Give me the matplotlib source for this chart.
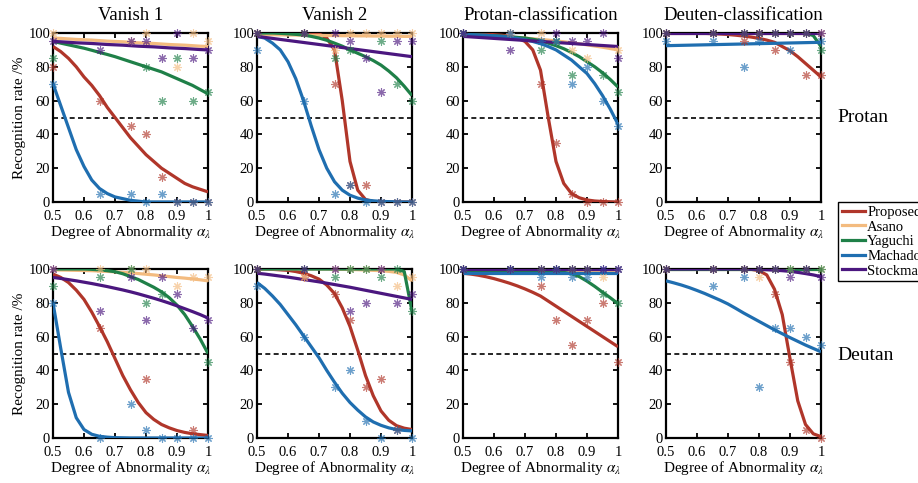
import numpy as np
import matplotlib.pyplot as plt

plt.rcParams['font.family'] = ['Liberation Serif', 'DejaVu Serif']
plt.rcParams['mathtext.fontset'] = 'stix'

methods = ['Proposed', 'Asano', 'Yaguchi', 'Machado', 'Stockman']
colors = ['#b0362a', '#f3bb7f', '#1f8048', '#1f6eb0', '#4b177f']
tasks = ['Vanish 1', 'Vanish 2', 'Protan-classification', 'Deuten-classification']
rows = ['Protan', 'Deutan']

# measured abnormality levels (scatter) and grid of the fitted curves
pt_x = [0.5, 0.65, 0.75, 0.8, 0.85, 0.9, 0.95, 1.0]
fit_x = [0.5, 0.525, 0.55, 0.575, 0.6, 0.625, 0.65, 0.675, 0.7, 0.725, 0.75,
         0.775, 0.8, 0.825, 0.85, 0.875, 0.9, 0.925, 0.95, 0.975, 1.0]
N = None

# ---- Protan row ----
p_v1_pts = [
    [80, 60, 45, 40, 15, 0, 0, 0],
    [100, N, 95, 100, N, 80, 100, 95],
    [85, N, N, 80, 60, 85, 60, 65],
    [70, 5, 5, 0, 5, 0, 0, 0],
    [95, 90, 95, 95, 85, 100, 85, 90],
]
p_v1_fit = [
    [92, 89, 85, 80, 74, 69, 63, 56, 50, 44, 38, 33, 28, 24, 20, 17, 14, 11, 9, 7.5, 6],
    [97, 96.8, 96.5, 96.2, 96, 95.8, 95.5, 95.2, 95, 94.8, 94.5, 94.2, 94, 93.8, 93.5, 93.2, 93, 92.8, 92.5, 92.2, 92],
    [95, 94, 93, 92, 91, 89.8, 88.5, 87.3, 86, 84.5, 83, 81.5, 80, 78.5, 77, 75, 73, 71, 69, 66.5, 64],
    [70, 57, 44, 31, 21, 13, 8, 5, 3, 2, 1, 0.5, 0, 0, 0, 0, 0, 0, 0, 0, 0],
    [95, 94.8, 94.5, 94.2, 94, 93.8, 93.5, 93.2, 93, 92.8, 92.5, 92.2, 92, 91.8, 91.5, 91.2, 91, 90.8, 90.5, 90.2, 90],
]

p_v2_pts = [
    [100, 100, 70, 10, 10, 0, 0, 0],
    [100, 100, 90, 100, 100, 100, 100, 100],
    [100, 100, 85, 90, N, 95, 70, 60],
    [90, 60, 5, 10, 0, 0, 0, 0],
    [100, 100, 100, 95, 85, 65, 95, 95],
]
p_v2_fit = [
    [100, 100, 100, 100, 100, 100, 100, 99.8, 99.5, 97, 90, 60, 24, 7, 1.5, 0.3, 0, 0, 0, 0, 0],
    [99, 99, 99, 98.9, 98.8, 98.8, 98.7, 98.6, 98.6, 98.5, 98.5, 98.4, 98.4, 98.3, 98.3, 98.2, 98.2, 98.1, 98.1, 98, 98],
    [100, 100, 100, 99.8, 99.5, 99.2, 98.8, 98, 97, 95.7, 94, 92.2, 90, 88, 86, 83.7, 81, 77.5, 73.5, 68.5, 63],
    [98, 97, 94, 90, 83, 73, 60, 45, 31, 20, 12, 7, 4, 2.3, 1.2, 0.7, 0.4, 0.2, 0.1, 0, 0],
    [98, 97.4, 96.8, 96.2, 95.6, 95, 94.4, 93.8, 93.2, 92.6, 92, 91.4, 90.8, 90.2, 89.6, 89, 88.4, 87.8, 87.2, 86.6, 86],
]

p_pc_pts = [
    [100, 100, 70, 35, 5, 0, 0, 0],
    [100, 100, 100, 95, 90, 85, N, 90],
    [100, N, 90, 95, 75, N, 75, 65],
    [100, 100, 95, 95, 70, 80, 60, 45],
    [100, 90, N, 100, 95, 95, 100, 85],
]
p_pc_fit = [
    [99.5, 99.5, 99.4, 99.3, 99, 98.7, 98, 97, 95, 90, 78, 50, 24, 11, 5, 2.5, 1.2, 0.6, 0.3, 0.1, 0],
    [98.5, 98.4, 98.3, 98.2, 98, 97.8, 97.6, 97.3, 97, 96.6, 96.2, 95.8, 95.3, 94.8, 94.2, 93.6, 93, 92.3, 91.6, 90.8, 90],
    [99, 99, 98.8, 98.6, 98.4, 98.1, 97.8, 97.4, 97, 96.3, 95.5, 94, 92.5, 90.7, 88.5, 86, 83, 80, 76.5, 72.5, 68],
    [99, 99, 98.8, 98.6, 98.3, 98, 97.5, 96.8, 96, 95, 93.7, 92, 90, 87, 84, 80, 76, 70, 63, 55, 46],
    [98, 97.7, 97.4, 97.1, 96.8, 96.5, 96.2, 95.9, 95.6, 95.3, 95, 94.7, 94.4, 94.1, 93.8, 93.5, 93.2, 92.9, 92.6, 92.3, 92],
]

p_dc_pts = [
    [100, 100, 95, 100, 90, N, 75, 75],
    [100, 100, 100, 100, 100, 100, 100, 100],
    [100, 100, 100, 100, 100, 100, 100, 90],
    [95, 95, 80, 95, N, 90, N, 95],
    [100, 100, 100, 100, 100, 100, 100, 100],
]
p_dc_fit = [
    [100, 100, 100, 100, 99.9, 99.8, 99.6, 99.4, 99.1, 98.7, 98.2, 97.6, 96.8, 95.8, 94.5, 92, 89.5, 86, 82, 78, 74],
    [100] * 21,
    [100, 100, 100, 100, 100, 100, 100, 100, 100, 100, 100, 100, 100, 100, 100, 100, 100, 100, 99.9, 98.5, 92],
    [92.5, 92.6, 92.7, 92.8, 92.9, 93, 93.1, 93.2, 93.3, 93.4, 93.5, 93.6, 93.7, 93.8, 93.9, 94, 94.1, 94.2, 94.3, 94.4, 94.5],
    [100] * 21,
]

# ---- Deutan row ----
d_v1_pts = [
    [N, 65, N, 35, N, N, 5, N],
    [100, 100, 100, 100, N, 90, 95, 95],
    [90, 95, 100, 80, 85, N, N, 45],
    [80, 0, 20, 5, 0, 0, 0, 0],
    [100, 75, 95, 70, 95, 85, 65, 70],
]
d_v1_fit = [
    [97, 95, 92, 87.5, 82, 74.5, 66, 57, 47, 37, 28.5, 21, 15, 11, 8, 6, 4.4, 3.3, 2.5, 2, 1.5],
    [99.5, 99.4, 99.3, 99.2, 99.1, 99, 98.8, 98.6, 98.3, 98, 97.7, 97.3, 96.9, 96.5, 96, 95.5, 95, 94.6, 94.1, 93.6, 93],
    [100, 100, 100, 100, 100, 99.8, 99.5, 99, 98.4, 97.2, 95.5, 93.8, 91.5, 89.2, 86.5, 83, 78.6, 73, 66, 58.5, 50],
    [80, 53, 27, 12, 5, 2.2, 1, 0.5, 0.2, 0.1, 0, 0, 0, 0, 0, 0, 0, 0, 0, 0, 0],
    [95, 94.4, 93.7, 93, 92.2, 91.4, 90.5, 89.6, 88.6, 87.6, 86.5, 85.3, 84, 82.7, 81.3, 79.8, 78.2, 76.5, 74.8, 73, 71],
]

d_v2_pts = [
    [100, 95, 85, 70, 30, 35, 5, N],
    [100, 95, 100, 100, 100, 100, 90, 95],
    [100, 100, 95, 100, 100, 95, 100, 75],
    [90, 60, 30, 40, 10, 0, 5, 0],
    [100, 100, 100, 75, 80, 100, 80, 85],
]
d_v2_fit = [
    [100, 100, 99.8, 99.5, 99.2, 98.5, 97.5, 96, 94, 90.5, 85.5, 77, 66, 52, 37, 25, 16, 10.5, 7.3, 5.8, 5],
    [100, 100, 100, 100, 100, 100, 100, 100, 100, 100, 99.9, 99.8, 99.7, 99.6, 99.4, 99.2, 99, 98.6, 98, 96.5, 93],
    [100, 100, 100, 100, 100, 100, 100, 100, 100, 100, 100, 100, 100, 100, 100, 100, 100, 100, 100, 98.5, 75],
    [92, 88.5, 84, 79, 73, 67, 60.5, 54, 47.5, 40, 33, 26.5, 21, 16.5, 12.5, 9.5, 7.5, 6, 5, 4.5, 4.2],
    [97.5, 97, 96.4, 95.8, 95.2, 94.5, 93.8, 93.1, 92.4, 91.6, 90.8, 90, 89.2, 88.3, 87.4, 86.5, 85.6, 84.7, 83.8, 82.9, 82],
]

d_pc_pts = [
    [100, 100, 90, 70, 55, 70, 80, 45],
    [100, 100, 100, 100, 100, 100, 95, 100],
    [100, 100, 100, 100, 100, 100, 85, 80],
    [100, 100, 95, 100, 95, 95, 100, 100],
    [100, 100, 100, 100, 100, 100, 100, 100],
]
d_pc_fit = [
    [97.5, 97, 96.3, 95.4, 94.3, 93, 91.6, 90, 88.2, 86.2, 84, 81, 78, 75, 72, 69, 66, 63, 60, 57, 54],
    [99] * 21,
    [98.5, 98.5, 98.5, 98.5, 98.5, 98.5, 98.5, 98.5, 98.5, 98.5, 98.4, 98.4, 98.3, 98, 97.2, 95.5, 92.8, 89.7, 86.3, 83, 79.5],
    [97.8] * 21,
    [100] * 21,
]

d_dc_pts = [
    [100, 100, 100, 100, 85, 45, 5, 0],
    [100, 100, 100, 95, 100, 100, 100, 100],
    [100, 100, 100, 100, 100, 100, 100, 100],
    [N, 90, 95, 30, 65, 65, 60, 55],
    [100, 100, 100, 100, 100, 95, 100, 95],
]
d_dc_fit = [
    [100, 100, 100, 100, 100, 100, 100, 100, 100, 100, 100, 99.8, 99, 96.5, 88, 73, 47, 22, 8, 2.5, 0.8],
    [100] * 21,
    [100] * 21,
    [93, 91.8, 90.5, 89, 87.3, 85.5, 83.5, 81.5, 79.3, 76.7, 74, 71.5, 69, 66.5, 64, 61.7, 59.4, 57.2, 55, 53, 51],
    [100, 100, 100, 100, 100, 100, 100, 100, 100, 100, 100, 99.9, 99.8, 99.6, 99.3, 99, 98.6, 98, 97.3, 96.5, 95.5],
]

panels = [
    [(p_v1_pts, p_v1_fit), (p_v2_pts, p_v2_fit), (p_pc_pts, p_pc_fit), (p_dc_pts, p_dc_fit)],
    [(d_v1_pts, d_v1_fit), (d_v2_pts, d_v2_fit), (d_pc_pts, d_pc_fit), (d_dc_pts, d_dc_fit)],
]

fig = plt.figure(figsize=(9.18, 4.83), dpi=100)

lefts = [53, 257, 463, 666]
tops = [33, 269]
w, h = 155, 169
W, H = 918, 483
asterisk = (8, 2, 0)

for r in range(2):
    for c in range(4):
        ax = fig.add_axes([lefts[c] / W, 1 - (tops[r] + h) / H, w / W, h / H])
        pts, fit = panels[r][c]
        ax.axhline(50, color='k', ls='--', lw=1.2, dashes=(3, 2), zorder=1)
        for m in range(5):
            y = np.array([np.nan if v is None else v for v in pts[m]], dtype=float)
            ax.plot(pt_x, y, ls='none', marker=asterisk, ms=6, mew=0.8,
                    color=colors[m], alpha=0.65, zorder=4, clip_on=False)
        for m in range(5):
            ax.plot(fit_x, fit[m], color=colors[m], lw=2.3, zorder=3,
                    solid_capstyle='butt')
        ax.set_xlim(0.5, 1.0)
        ax.set_ylim(0, 100)
        ax.set_xticks([0.5, 0.6, 0.7, 0.8, 0.9, 1.0])
        ax.set_xticklabels(['0.5', '0.6', '0.7', '0.8', '0.9', '1'])
        ax.set_yticks([0, 20, 40, 60, 80, 100])
        ax.tick_params(direction='in', top=True, right=True, length=3.5,
                       width=1.3, labelsize=10.5)
        ax.tick_params(axis='x', pad=5.5)
        ax.tick_params(axis='y', pad=2)
        for s in ax.spines.values():
            s.set_linewidth(1.6)
        ax.set_xlabel(r'Degree of Abnormality $\alpha_\lambda$', fontsize=11, labelpad=0)
        if c == 0:
            ax.set_ylabel('Recognition rate /%', fontsize=11, labelpad=2)
        if r == 0:
            ax.set_title(tasks[c], fontsize=13.5, pad=9)

fig.text(837 / W, 1 - 118 / H, rows[0], fontsize=14, va='center', ha='left')
fig.text(837 / W, 1 - 355 / H, rows[1], fontsize=14, va='center', ha='left')

handles = [plt.Line2D([], [], color=colors[m], lw=2.3) for m in range(5)]
leg = fig.legend(handles, methods, loc='upper left',
                 bbox_to_anchor=(838 / W, 1 - 202 / H), fontsize=10.5,
                 frameon=True, fancybox=False, edgecolor='k', framealpha=1,
                 handlelength=1.6, handletextpad=0.15, borderpad=0.25,
                 labelspacing=0.1, borderaxespad=0)
leg.get_frame().set_linewidth(1.0)

fig.savefig('out.png', dpi=100)
